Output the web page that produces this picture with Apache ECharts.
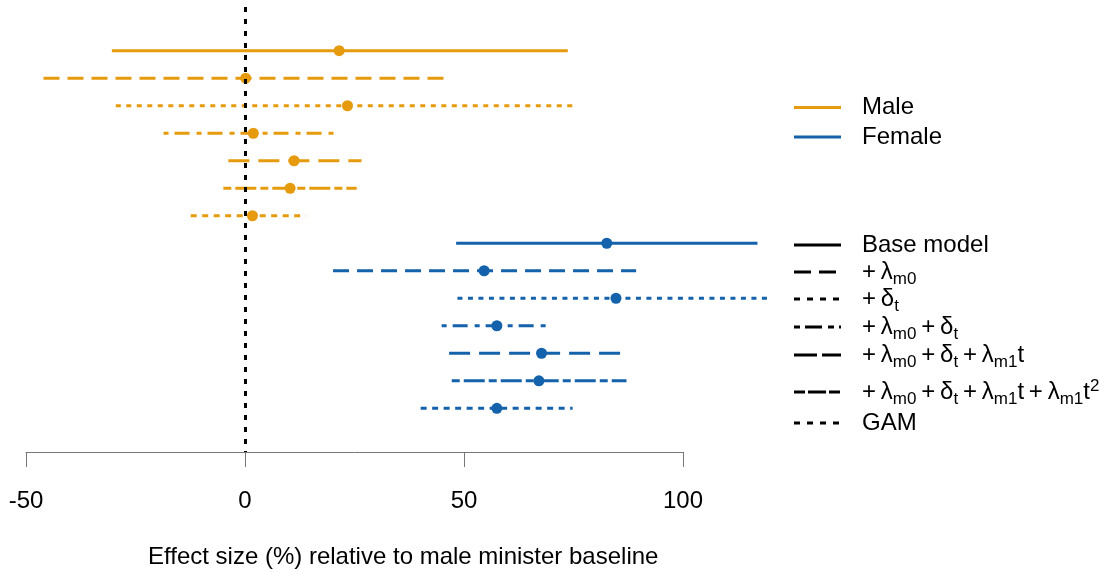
<!DOCTYPE html>
<html><head><meta charset="utf-8">
<script src="https://cdn.jsdelivr.net/npm/echarts@6/dist/echarts.min.js"></script>
<style>html,body{margin:0;padding:0;background:#fff}#c{width:1105px;height:572px}</style>
</head><body><div id="c"></div>
<script>
// ---- data ----
const models = ['Base model', '+ λm0', '+ δt', '+ λm0 + δt', '+ λm0 + δt + λm1t', '+ λm0 + δt + λm1t + λm1t²', 'GAM'];
const T = '\u2009';
const modelLabels = ['Base model', '+' + T + 'λ{s|m0}', '+' + T + 'δ{s|t}', '+' + T + 'λ{s|m0}' + T + '+' + T + 'δ{s|t}',
  '+' + T + 'λ{s|m0}' + T + '+' + T + 'δ{s|t}' + T + '+' + T + 'λ{s|m1}t',
  '+' + T + 'λ{s|m0}' + T + '+' + T + 'δ{s|t}' + T + '+' + T + 'λ{s|m1}t' + T + '+' + T + 'λ{s|m1}t{p|2}', 'GAM'];
const groups = ['Male', 'Female'];
const maleEst  = [21.5, 0.15, 23.4, 1.9, 11.2, 10.3, 1.7];
const maleLow  = [-30.4, -46.0, -29.5, -18.6, -3.8, -4.95, -12.4];
const maleHigh = [73.7, 46.1, 75.6, 21.3, 26.6, 25.5, 13.9];
const femaleEst  = [82.6, 54.6, 84.7, 57.5, 67.7, 67.1, 57.5];
const femaleLow  = [48.2, 20.1, 48.5, 44.9, 46.6, 47.2, 40.1];
const femaleHigh = [117.0, 89.3, 119.9, 69.2, 87.3, 87.1, 74.8];
const xTicks = [-50, 0, 50, 100];
const plotMaxX = 125;
const refValue = 0;
const xLabel = 'Effect size (%) relative to male minister baseline';

// ---- styles ----
const colors = ['#E69A0E', '#1462AB'];
const plotDash = ['solid', [16, 8], [5, 5.5], [5, 6, 15, 7], [21, 9], [8, 4, 21, 4], [6, 5.5]];
const legendDash = [null, [17, 8], [6, 7], [6, 5, 17, 6], [23, 5], [11, 3, 18, 3], [6, 7]];
const FONT = 'Liberation Sans, Arial, Helvetica, sans-serif';

// layout: axis grid spans ticks; data grid same scale, wider range
const axLeft = 26, axWidth = 657;
const pxPerUnit = axWidth / (xTicks[xTicks.length - 1] - xTicks[0]);
const dataWidth = pxPerUnit * (plotMaxX - xTicks[0]);

const est = [maleEst, femaleEst], low = [maleLow, femaleLow], high = [maleHigh, femaleHigh];
const series = [];
groups.forEach((g, gi) => {
  models.forEach((m, i) => {
    const row = gi * models.length + i;
    series.push({
      name: g + ' ' + m, type: 'line', silent: true, symbol: 'none', z: 2,
      xAxisIndex: 0, yAxisIndex: 0,
      data: [[low[gi][i], row], [high[gi][i], row]],
      lineStyle: { color: colors[gi], width: 3, type: plotDash[i], cap: 'butt' }
    });
  });
});
groups.forEach((g, gi) => {
  const s = {
    name: g, type: 'scatter', silent: true, symbol: 'circle', symbolSize: 11,
    xAxisIndex: 0, yAxisIndex: 0,
    itemStyle: { color: colors[gi], opacity: 1 }, z: gi === 1 ? 5 : 3,
    data: est[gi].map((v, i) => [v, gi * models.length + i])
  };
  if (gi === 1) {
    s.markLine = {
      silent: true, symbol: 'none', animation: false, label: { show: false },
      lineStyle: { color: '#000', width: 3, type: [5, 7], opacity: 1 },
      data: [{ xAxis: refValue }]
    };
  }
  series.push(s);
});

// ---- legend (drawn) ----
const graphic = [];
const lx1 = 794, lx2 = 841, tx = 862;
const groupY = [107.5, 137];
groups.forEach((g, gi) => {
  graphic.push({ type: 'line', shape: { x1: lx1, y1: groupY[gi], x2: lx2, y2: groupY[gi] },
    style: { stroke: colors[gi], lineWidth: 3 }, silent: true });
  graphic.push({ type: 'text', x: tx, y: groupY[gi], silent: true,
    style: { text: g, fill: '#000', fontSize: 24, fontFamily: FONT, verticalAlign: 'middle', align: 'left' } });
});
const modelY = [245, 272, 299, 327, 355, 392, 423];
models.forEach((m, i) => {
  const st = { stroke: '#000', lineWidth: 3 };
  if (legendDash[i]) st.lineDash = legendDash[i];
  graphic.push({ type: 'line', shape: { x1: lx1, y1: modelY[i], x2: lx2, y2: modelY[i] }, style: st, silent: true });
  graphic.push({ type: 'text', x: tx, y: modelY[i], silent: true,
    style: {
      text: modelLabels[i], fill: '#000', fontSize: 24, fontFamily: FONT, lineHeight: 32,
      verticalAlign: 'middle', align: 'left',
      rich: {
        s: { fontSize: 17, fontFamily: FONT, fill: '#000', padding: [14, 0, 0, 0], lineHeight: 32 },
        p: { fontSize: 17, fontFamily: FONT, fill: '#000', padding: [0, 0, 11, 0], lineHeight: 32 }
      }
    } });
});

const chart = echarts.init(document.getElementById('c'), null, { renderer: 'canvas' });
chart.setOption({
  animation: false,
  backgroundColor: '#fff',
  title: { text: xLabel, left: 148, top: 545, padding: 0,
    textStyle: { fontSize: 24, fontWeight: 'normal', color: '#000', fontFamily: FONT } },
  grid: [
    { left: axLeft, width: dataWidth, top: 7, bottom: 120, containLabel: false },
    { left: axLeft, width: axWidth, top: 7, bottom: 120, containLabel: false }
  ],
  xAxis: [
    { type: 'value', gridIndex: 0, min: xTicks[0], max: plotMaxX, show: false, splitLine: { show: false } },
    {
      type: 'value', gridIndex: 1, position: 'bottom', min: xTicks[0], max: xTicks[xTicks.length - 1], interval: 50,
      axisLine: { show: true, onZero: false, lineStyle: { color: '#777', width: 1 } },
      axisTick: { show: true, length: 15, lineStyle: { color: '#777', width: 1 } },
      axisLabel: { fontSize: 24, color: '#000', margin: 37, fontFamily: FONT,
        showMinLabel: true, showMaxLabel: true },
      splitLine: { show: false }
    }
  ],
  yAxis: [
    { type: 'value', gridIndex: 0, inverse: true, min: -1.59, max: 14.59, show: false, splitLine: { show: false } },
    { type: 'value', gridIndex: 1, inverse: true, min: -1.59, max: 14.59, show: false, splitLine: { show: false } }
  ],
  series: series,
  graphic: graphic
});
</script>
</body></html>
